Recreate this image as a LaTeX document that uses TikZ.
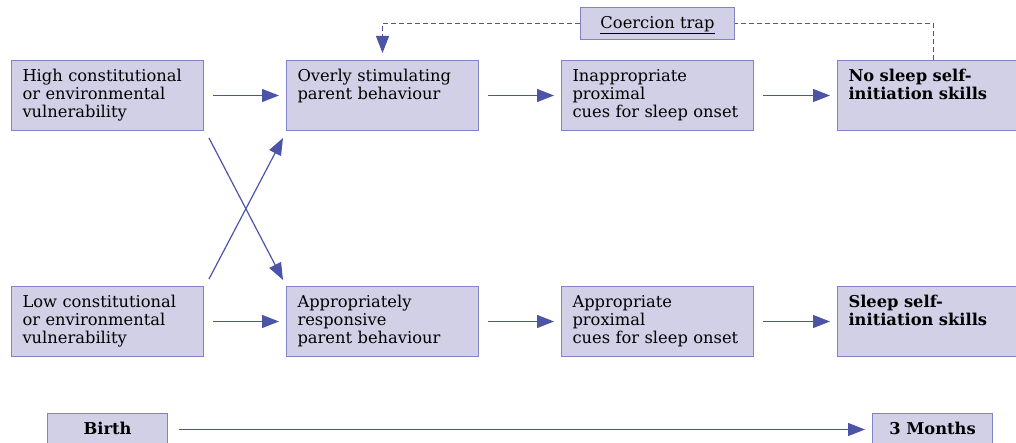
\documentclass[tikz,border=0pt]{standalone}
\usepackage{fontspec}
\setmainfont{DejaVu Serif}
\usepackage{tikz}
\usetikzlibrary{arrows.meta}
\usepackage{xcolor}
\definecolor{boxfill}{RGB}{210,208,230}
\definecolor{boxline}{RGB}{128,132,196}
\definecolor{arrblue}{RGB}{76,84,168}

\begin{document}
\begin{tikzpicture}
  [x=1pt, y=-1pt,
   every node/.style={font=\fontsize{16.3}{17.8}\selectfont},
   stage/.style={draw=boxline, fill=boxfill, line width=1pt, anchor=north west,
     text width=170pt, align=left, inner xsep=11pt, inner ysep=0pt,
     text height=21pt, text depth=49pt},
   tag/.style={draw=boxline, fill=boxfill, line width=1pt, anchor=north west,
     inner sep=0pt, text height=21pt, text depth=11pt, align=center},
   towards/.style={color=arrblue, line width=1.2pt, -{Triangle[length=17pt,width=13pt]}},
   trap/.style={color=arrblue, line width=1pt, dash pattern=on 5pt off 3pt},
  ]
  \useasboundingbox (0,0) rectangle (1016,443);

  % top row
  \node[stage] (high) at (11,60) {High constitutional\\or environmental\\vulnerability};
  \node[stage] (overly) at (286,60) {Overly stimulating\\parent behaviour};
  \node[stage] (inapp) at (561,60) {Inappropriate\\proximal\\cues for sleep onset};
  \node[stage] (nosleep) at (837,60) {\textbf{No sleep self-}\\\textbf{initiation skills}};

  % bottom row
  \node[stage] (low) at (11,286) {Low constitutional\\or environmental\\vulnerability};
  \node[stage] (approp) at (286,286) {Appropriately\\responsive\\parent behaviour};
  \node[stage] (appcues) at (561,286) {Appropriate\\proximal\\cues for sleep onset};
  \node[stage] (sleep) at (837,286) {\textbf{Sleep self-}\\\textbf{initiation skills}};

  \node[tag, minimum width=154pt] (coercion) at (580,7) {\underline{Coercion trap}};
  \node[tag, minimum width=120pt] (birth) at (47,413) {\textbf{Birth}};
  \node[tag, minimum width=120pt] (months) at (872,413) {\textbf{3 Months}};

  \path ([xshift=9pt]high.east) edge[towards] ([xshift=-7pt]overly.west)
        ([xshift=9pt]overly.east) edge[towards] ([xshift=-7pt]inapp.west)
        ([xshift=9pt]inapp.east) edge[towards] ([xshift=-7pt]nosleep.west)
        ([xshift=9pt]low.east) edge[towards] ([xshift=-7pt]approp.west)
        ([xshift=9pt]approp.east) edge[towards] ([xshift=-7pt]appcues.west)
        ([xshift=9pt]appcues.east) edge[towards] ([xshift=-7pt]sleep.west)
        ([shift={(5,7)}]high.south east) edge[towards] ([shift={(-3,-6)}]approp.north west)
        ([shift={(5,-7)}]low.north east) edge[towards] ([shift={(-3,7)}]overly.south west)
        ([xshift=11pt]birth.east) edge[towards] ([xshift=-7pt]months.west);

  \draw[trap] (nosleep.north) |- (coercion.east);
  \draw[trap, -{Triangle[length=17pt,width=13pt]}]
    (coercion.west) -| ([shift={(0,-7)}]overly.north);
\end{tikzpicture}
\end{document}
